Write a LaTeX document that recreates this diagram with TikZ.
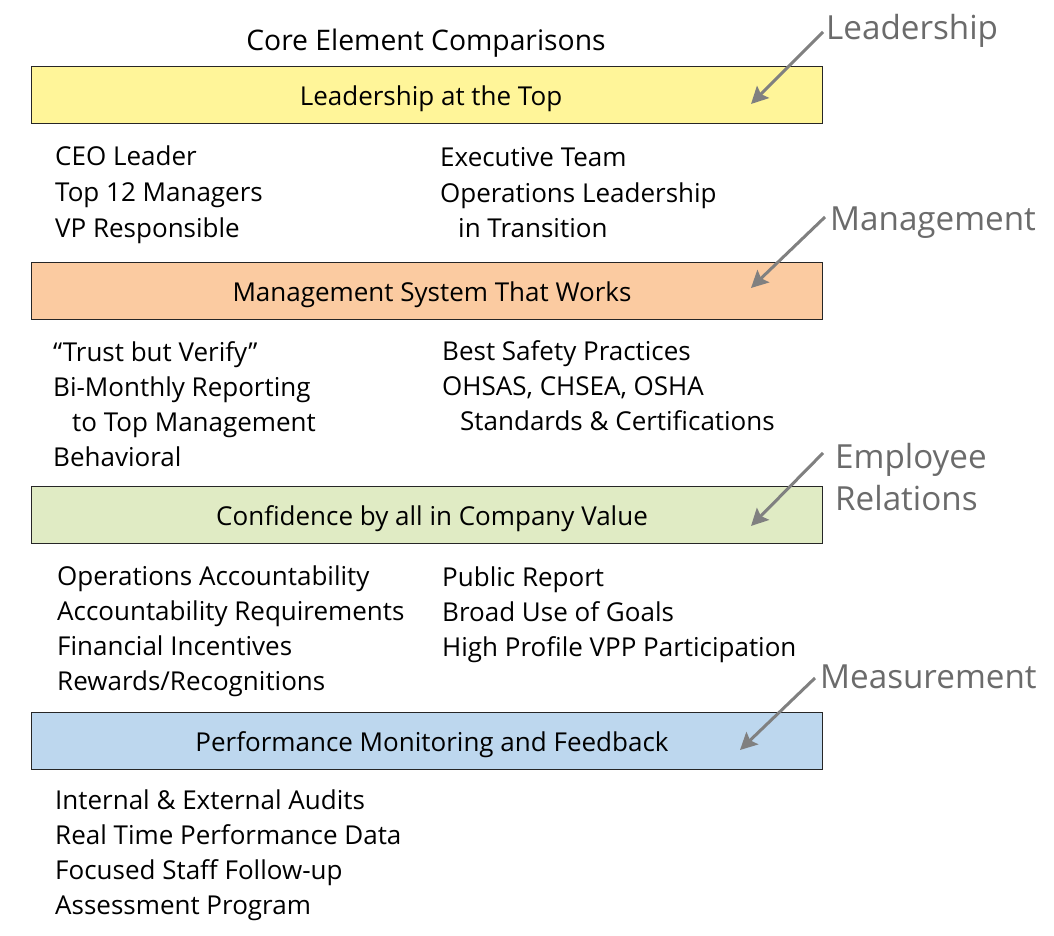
\documentclass[tikz,border=0pt]{standalone}
\usepackage{fontspec}
\setmainfont{Open Sans}
\usetikzlibrary{arrows.meta}
\begin{document}
\begin{tikzpicture}[x=1pt,y=-1pt,
  bar/.style={draw=black!85, line width=1pt},
  txt/.style={anchor=base west, inner sep=0pt, font=\fontsize{26}{30}\selectfont},
  ttl/.style={anchor=base, inner sep=0pt, font=\fontsize{26}{30}\selectfont},
  big/.style={anchor=base, inner sep=0pt, font=\fontsize{28.3}{32}\selectfont},
  lab/.style={anchor=base west, inner sep=0pt, text=black!58, font=\fontsize{33.2}{38}\selectfont},
  arr/.style={draw=black!50, line width=3pt, -{Stealth[length=17pt,width=17pt,inset=3pt]}}]
\useasboundingbox (0,0) rectangle (1054,936);
\definecolor{cyel}{HTML}{FFF599}
\definecolor{cora}{HTML}{FBCBA1}
\definecolor{cgrn}{HTML}{E0EBC4}
\definecolor{cblu}{HTML}{BDD7EE}
\node[big] (title) at (426,51) {Core Element Comparisons};
% boxes
\filldraw[bar, fill=cyel] (31,67) rectangle (822,124);
\node[ttl] (b1) at (431,106) {Leadership at the Top};
\filldraw[bar, fill=cora] (31,262) rectangle (822,319);
\node[ttl] (b2) at (432,301) {Management System That Works};
\filldraw[bar, fill=cgrn] (31,486) rectangle (822,543);
\node[ttl] (b3) at (432,525) {Confidence by all in Company Value};
\filldraw[bar, fill=cblu] (31,712) rectangle (822,769);
\node[ttl] (b4) at (432,751) {Performance Monitoring and Feedback};
% block 1
\node[txt] (l11) at (55,166) {CEO Leader};
\node[txt] (l12) at (55,201) {Top 12 Managers};
\node[txt] (l13) at (55,237) {VP Responsible};
\node[txt] (r11) at (440,167) {Executive Team};
\node[txt] (r12) at (440,202) {Operations Leadership};
\node[txt] (r13) at (458,237) {in Transition};
% block 2
\node[txt] (l21) at (53,361) {“Trust but Verify”};
\node[txt] (l22) at (53,396) {Bi-Monthly Reporting};
\node[txt] (l23) at (72,431) {to Top Management};
\node[txt] (l24) at (53,466) {Behavioral};
\node[txt] (r21) at (442,360) {Best Safety Practices};
\node[txt] (r22) at (442,395) {OHSAS, CHSEA, OSHA};
\node[txt] (r23) at (460,430) {Standards \& Certifications};
% block 3
\node[txt] (l31) at (57,585) {Operations Accountability};
\node[txt] (l32) at (57,620) {Accountability Requirements};
\node[txt] (l33) at (57,655) {Financial Incentives};
\node[txt] (l34) at (57,690) {Rewards/Recognitions};
\node[txt] (r31) at (442,586) {Public Report};
\node[txt] (r32) at (442,621) {Broad Use of Goals};
\node[txt] (r33) at (442,656) {High Profile VPP Participation};
% block 4
\node[txt] (l41) at (55,809) {Internal \& External Audits};
\node[txt] (l42) at (55,844) {Real Time Performance Data};
\node[txt] (l43) at (55,879) {Focused Staff Follow-up};
\node[txt] (l44) at (55,914) {Assessment Program};
% side labels
\node[lab] (s1) at (826,40) {Leadership};
\node[lab] (s2) at (830,230) {Management};
\node[lab] (s3) at (835,468) {Employee};
\node[lab] (s3b) at (835,510) {Relations};
\node[lab] (s4) at (820,688) {Measurement};
\coordinate (a1s) at (823,32); \coordinate (a1e) at (751,104);
\coordinate (a2s) at (825,217); \coordinate (a2e) at (751,288);
\coordinate (a3s) at (823,453); \coordinate (a3e) at (751,526);
\coordinate (a4s) at (815,678); \coordinate (a4e) at (740,750);
\draw[arr] (a1s) -- (a1e);
\draw[arr] (a2s) -- (a2e);
\draw[arr] (a3s) -- (a3e);
\draw[arr] (a4s) -- (a4e);
\end{tikzpicture}
\end{document}
